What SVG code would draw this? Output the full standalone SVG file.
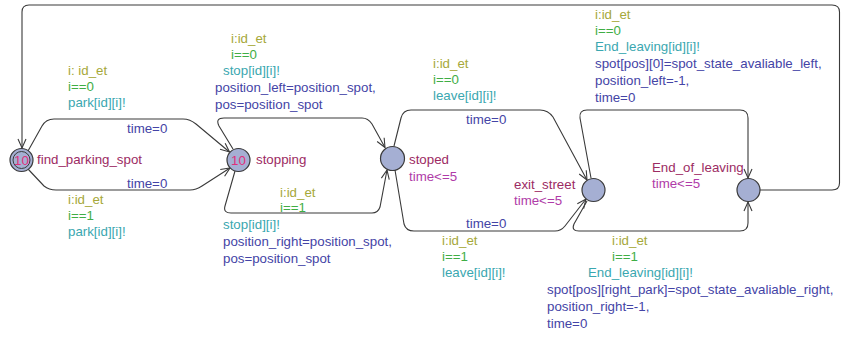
<svg xmlns="http://www.w3.org/2000/svg" width="841" height="338" viewBox="0 0 841 338">
  <style>
    text { font-family: "Liberation Sans", Arial, sans-serif; font-size: 13.3px; }
    .loc { fill: #a5afd3; stroke: #3a3a3a; stroke-width: 1.2; }
    .edge { fill: none; stroke: #3a3a3a; stroke-width: 1.1; marker-end: url(#arrow); }
    .edge-plain { fill: none; stroke: #3a3a3a; stroke-width: 1.1; }
    .name { fill: #9c2b63; }
    .inv { fill: #b03ca8; }
    .rate { fill: #e0307a; text-anchor: middle; }
    .sel { fill: #a6a83a; }
    .grd { fill: #3fae45; }
    .syn { fill: #3aa7b0; }
    .upd { fill: #4444a6; }
  </style>
  <defs>
    <marker id="arrow" viewBox="-10 -6 12 12" refX="0" refY="0" markerWidth="12" markerHeight="12" markerUnits="userSpaceOnUse" orient="auto">
      <path d="M-9,-4 L0,0 L-9,4" fill="none" stroke="#3a3a3a" stroke-width="1.1"/>
    </marker>
  </defs>

  <!-- transitions -->
  <g id="connectors">
    <path class="edge" d="M28,151 L42,126 Q46,119 54,119 L183,119 Q190,119 196,124 L229.5,152"/>
    <path class="edge" d="M28,169 L44,186 Q49,190 56,190 L190,190 Q196,190 202,186 L230,168"/>
    <path class="edge" d="M233,149 L219,126 Q215,118 224,118 L362,118 Q368,118 372,124 L385,147.5"/>
    <path class="edge" d="M235,171 L225,206 Q223,213 231,213 L372,213 Q378,213 380,207 L387,170"/>
    <path class="edge" d="M394,146 L401,118 Q403,110 411,110 L540,110 Q548,110 553,117 L587,180"/>
    <path class="edge" d="M395,170 L404,224 Q406,231 414,231 L555,231 Q561,231 565,226 L586,199"/>
    <path class="edge" d="M591,178 L580,118 Q579,110 587,110 L740,110 Q748,110 748,118 L748,178"/>
    <path class="edge" d="M587,201 L574,224 Q571,231 579,231 L740,231 Q748,231 748,223 L748,202"/>
    <path class="edge" d="M760,190 L832,190 Q839.5,190 839.5,183 L839.5,12 Q839.5,5 832,5 L29,5 Q22,5 22,12 L22,148"/>
  </g>

  <!-- edge labels -->
  <g id="labels-park">
    <text class="sel" x="68" y="75">i: id_et</text>
    <text class="grd" x="68" y="91">i==0</text>
    <text class="syn" x="68" y="107">park[id][i]!</text>
    <text class="upd" x="127" y="133">time=0</text>
    <text class="upd" x="127" y="188">time=0</text>
    <text class="sel" x="68" y="204">i:id_et</text>
    <text class="grd" x="68" y="220">i==1</text>
    <text class="syn" x="68" y="236">park[id][i]!</text>
  </g>
  <g id="labels-stop">
    <text class="sel" x="231" y="43">i:id_et</text>
    <text class="grd" x="231" y="59">i==0</text>
    <text class="syn" x="223" y="75">stop[id][i]!</text>
    <text class="upd" x="215" y="92">position_left=position_spot,</text>
    <text class="upd" x="215" y="109">pos=position_spot</text>
    <text class="sel" x="280" y="197">i:id_et</text>
    <text class="grd" x="280" y="212">i==1</text>
    <text class="syn" x="223" y="229">stop[id][i]!</text>
    <text class="upd" x="223" y="246">position_right=position_spot,</text>
    <text class="upd" x="223" y="263">pos=position_spot</text>
  </g>
  <g id="labels-leave">
    <text class="sel" x="433" y="68">i:id_et</text>
    <text class="grd" x="433" y="84">i==0</text>
    <text class="syn" x="433" y="100">leave[id][i]!</text>
    <text class="upd" x="466" y="124">time=0</text>
    <text class="upd" x="466" y="228">time=0</text>
    <text class="sel" x="442" y="245">i:id_et</text>
    <text class="grd" x="442" y="261">i==1</text>
    <text class="syn" x="442" y="277">leave[id][i]!</text>
  </g>
  <g id="labels-end">
    <text class="sel" x="595" y="19">i:id_et</text>
    <text class="grd" x="595" y="35">i==0</text>
    <text class="syn" x="595" y="51">End_leaving[id][i]!</text>
    <text class="upd" x="595" y="68">spot[pos][0]=spot_state_avaliable_left,</text>
    <text class="upd" x="595" y="85">position_left=-1,</text>
    <text class="upd" x="595" y="102">time=0</text>
    <text class="sel" x="612" y="245">i:id_et</text>
    <text class="grd" x="612" y="261">i==1</text>
    <text class="syn" x="588" y="277">End_leaving[id][i]!</text>
    <text class="upd" x="547" y="294">spot[pos][right_park]=spot_state_avaliable_right,</text>
    <text class="upd" x="547" y="311">position_right=-1,</text>
    <text class="upd" x="547" y="328">time=0</text>
  </g>

  <!-- locations -->
  <g id="find_parking_spot">
    <circle class="loc" cx="21.5" cy="160" r="11.5"/>
    <circle cx="21.5" cy="160" r="8.5" fill="none" stroke="#3a3a3a" stroke-width="1"/>
    <text class="rate" x="21.5" y="165">10</text>
    <text class="name" x="37" y="164">find_parking_spot</text>
  </g>
  <g id="stopping">
    <circle class="loc" cx="238.5" cy="160" r="11.5"/>
    <text class="rate" x="238.5" y="165">10</text>
    <text class="name" x="256" y="164">stopping</text>
  </g>
  <g id="stoped">
    <circle class="loc" cx="392.5" cy="158.5" r="12"/>
    <text class="name" x="409" y="164">stoped</text>
    <text class="inv" x="409" y="181">time&lt;=5</text>
  </g>
  <g id="exit_street">
    <circle class="loc" cx="593.5" cy="190" r="11.5"/>
    <text class="name" x="514" y="189">exit_street</text>
    <text class="inv" x="514" y="205">time&lt;=5</text>
  </g>
  <g id="End_of_leaving">
    <circle class="loc" cx="748.5" cy="190" r="11.5"/>
    <text class="name" x="652" y="172">End_of_leaving</text>
    <text class="inv" x="652" y="188">time&lt;=5</text>
  </g>
</svg>
